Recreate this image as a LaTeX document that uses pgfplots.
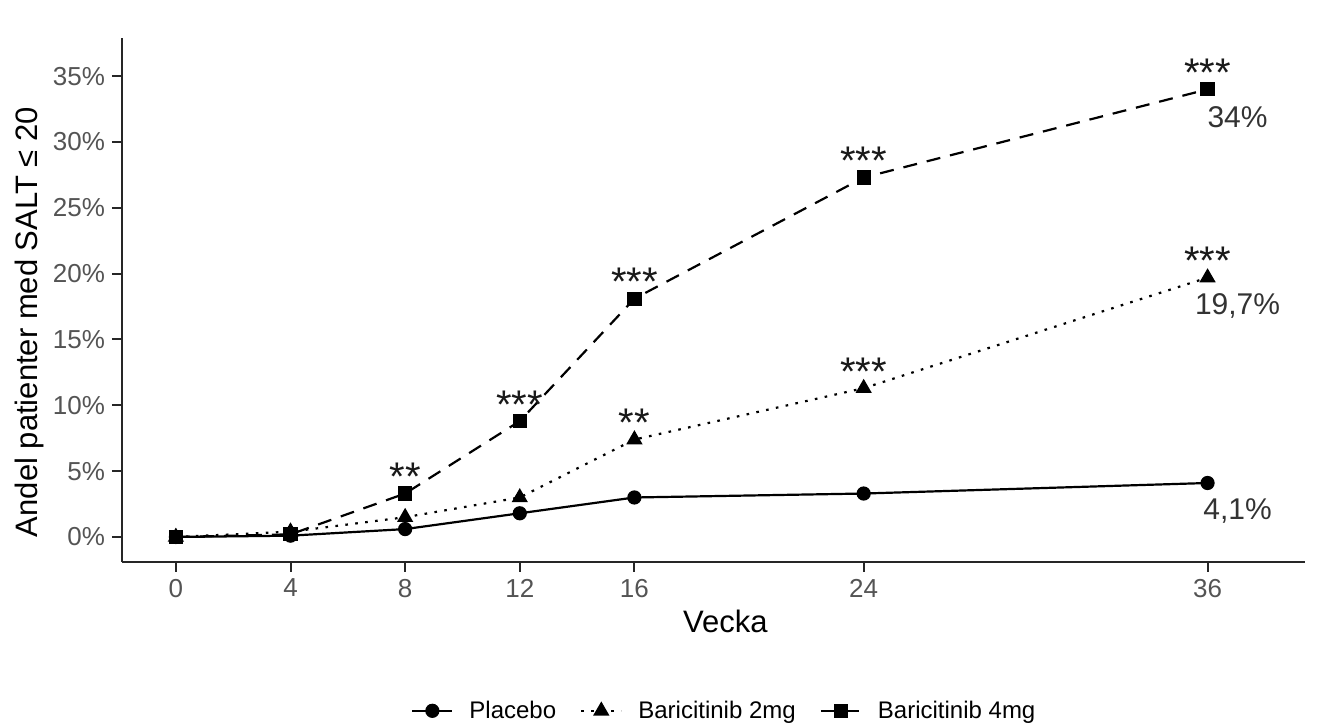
\documentclass[border=0pt]{standalone}
\usepackage{fontspec}
\setmainfont{Liberation Sans}
\usepackage{pgfplots}
\pgfplotsset{compat=1.18}
\definecolor{ticklab}{gray}{0.33}
\definecolor{axline}{gray}{0.15}

\begin{document}
\begin{tikzpicture}[x=1pt,y=1pt]
\useasboundingbox (-61,-82) rectangle (599,281);
\begin{axis}[
    at={(0,0)}, anchor=south west,
    scale only axis,
    width=591.5pt, height=262pt,
    xmin=-1.88, xmax=39.4,
    ymin=-1.9, ymax=37.9,
    axis x line*=bottom, axis y line*=left,
    axis line style={line width=1.4pt, color=axline},
    xtick={0,4,8,12,16,24,36},
    ytick={0,5,...,35},
    yticklabel={\pgfmathprintnumber{\tick}\%},
    tick align=outside,
    major tick length=5pt,
    tick style={line width=1pt, color=axline},
    /pgf/number format/assume math mode=true,
    ticklabel style={font=\fontsize{13}{15}\selectfont, color=ticklab},
    xlabel={Vecka},
    ylabel={Andel patienter med SALT ≤ 20},
    label style={font=\fontsize{15.5}{18}\selectfont},
    xlabel style={at={(axis description cs:0.51,-0.1126)}, anchor=center},
    ylabel style={at={(axis description cs:-0.0778,0.458)}, anchor=center},
    legend columns=3,
    legend image code/.code={%
        \draw[mark repeat=2,mark phase=2] plot coordinates {(0pt,0pt) (10pt,0pt) (20pt,0pt)};},
    legend style={draw=none, at={(axis description cs:0.51,-0.284)}, anchor=center,
        font=\fontsize{12}{14}\selectfont,
        /tikz/every odd column/.append style={column sep=6pt},
        /tikz/every even column/.append style={column sep=10pt}},
    clip=false,
]
\addplot[black, line width=1.1pt, mark=*, mark size=3pt]
    coordinates {(0,0) (4,0.1) (8,0.6) (12,1.8) (16,3.0) (24,3.3) (36,4.1)};
\addlegendentry{Placebo}
\addplot[black, line width=1.1pt, dash pattern=on 1.3pt off 3.7pt,
    mark=triangle*, mark size=3.6pt, mark options={solid}]
    coordinates {(0,0) (4,0.4) (8,1.5) (12,3.0) (16,7.4) (24,11.3) (36,19.7)};
\addlegendentry{Baricitinib 2mg}
\addplot[black, line width=1.1pt, dash pattern=on 7pt off 5pt,
    mark=square*, mark size=3pt, mark options={solid}]
    coordinates {(0,0) (4,0.2) (8,3.3) (12,8.8) (16,18.1) (24,27.3) (36,34.0)};
\addlegendentry{Baricitinib 4mg}

% significance stars
\begin{scope}[every node/.style={anchor=base, yshift=1.5pt, font=\fontsize{20}{20}\selectfont, text=black!90}]
\node at (axis cs:8,3.3) {**};
\node at (axis cs:12,8.8) {***};
\node at (axis cs:16,18.1) {***};
\node at (axis cs:24,27.3) {***};
\node at (axis cs:36,34.0) {***};
\node at (axis cs:16,7.4) {**};
\node at (axis cs:24,11.3) {***};
\node at (axis cs:36,19.7) {***};
\end{scope}

% end values
\begin{scope}[every node/.style={anchor=center, xshift=15pt, yshift=-14pt, font=\fontsize{15}{15}\selectfont, text=black!80}]
\node at (axis cs:36,34.0) {34\%};
\node at (axis cs:36,19.7) {19,7\%};
\node at (axis cs:36,4.1) {4,1\%};
\end{scope}
\end{axis}
\end{tikzpicture}
\end{document}
